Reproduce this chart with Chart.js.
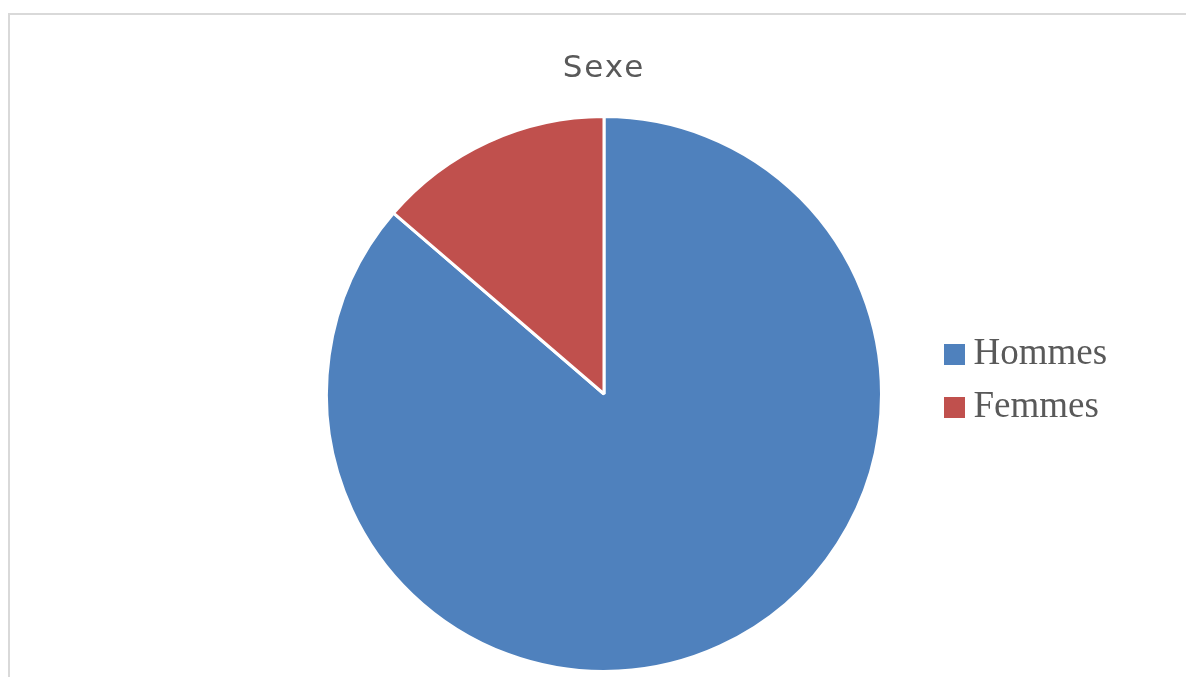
<!DOCTYPE html>
<html>
<head>
<meta charset="utf-8">
<script src="https://cdn.jsdelivr.net/npm/chart.js@4/dist/chart.umd.min.js"></script>
<style>
  html, body { margin: 0; padding: 0; background: #ffffff; overflow: hidden; width: 1186px; height: 677px; }
  #frame { position: absolute; left: 8px; top: 13px; width: 1300px; height: 800px;
           border-left: 2px solid #d9d9d9; border-top: 2px solid #d9d9d9; }
  #wrap { position: absolute; left: 10px; top: 15px; width: 1186px; height: 677px; }
</style>
</head>
<body>
<div id="frame"></div>
<div id="wrap"><canvas id="c"></canvas></div>
<script>
const titleText = 'Sexe';
const categories = ['Hommes', 'Femmes'];
const values = [86.3, 13.7];
const colors = ['#4F81BD', '#C0504D'];

const legendFontSize = 37;
const legendFontFamily = '"Liberation Serif", "Times New Roman", serif';
const legendPadding = 16;
const legendTop = 305;

function makeSwatch(color) {
  const c = document.createElement('canvas');
  c.width = 21; c.height = 21;
  const x = c.getContext('2d');
  x.fillStyle = color;
  x.fillRect(0, 0, 21, 21);
  return c;
}
const swatches = colors.map(makeSwatch);

const mctx = document.createElement('canvas').getContext('2d');
mctx.font = legendFontSize + 'px ' + legendFontFamily;
const maxText = Math.max(...categories.map(t => mctx.measureText(t).width));
const legendWidth = legendPadding + (1 + legendFontSize / 2 + maxText) + 10;
const legendLeft = 928;
const padRight = 1186 - legendLeft - legendWidth;
const padLeft = 2 * 594 - legendLeft;

const tweaks = {
  id: 'tweaks',
  afterLayout(chart) {
    const lg = chart.legend;
    if (lg) { lg.top = legendTop; lg.bottom = legendTop + 200; }
  },
  beforeDraw(chart) {
    const t = chart.titleBlock;
    if (t && !t._ls) {
      const orig = t.draw.bind(t);
      t.draw = function () {
        const c = this.ctx;
        c.save();
        c.letterSpacing = '2px';
        orig();
        c.restore();
      };
      t._ls = true;
    }
  }
};

new Chart(document.getElementById('c'), {
  type: 'pie',
  data: {
    labels: categories,
    datasets: [{
      data: values,
      backgroundColor: colors,
      borderColor: '#ffffff',
      borderWidth: 3
    }]
  },
  options: {
    responsive: true,
    maintainAspectRatio: false,
    animation: false,
    events: [],
    layout: { padding: { left: padLeft, right: padRight, top: 0, bottom: 19 } },
    plugins: {
      title: {
        display: true,
        text: titleText,
        fullSize: false,
        color: '#595959',
        font: { family: '"DejaVu Sans", sans-serif', size: 31, weight: 'normal', lineHeight: 1.2 },
        padding: { top: 35.4, bottom: 27.4 }
      },
      legend: {
        display: true,
        position: 'right',
        align: 'start',
        labels: {
          usePointStyle: true,
          pointStyleWidth: 1,
          padding: legendPadding,
          color: '#595959',
          font: { family: legendFontFamily, size: legendFontSize, lineHeight: 1.2 },
          generateLabels(chart) {
            return categories.map((name, i) => ({
              text: name,
              fillStyle: colors[i],
              strokeStyle: colors[i],
              fontColor: '#595959',
              lineWidth: 0,
              pointStyle: swatches[i],
              hidden: false,
              index: i
            }));
          }
        }
      },
      tooltip: { enabled: false }
    }
  },
  plugins: [tweaks]
});
</script>
</body>
</html>
